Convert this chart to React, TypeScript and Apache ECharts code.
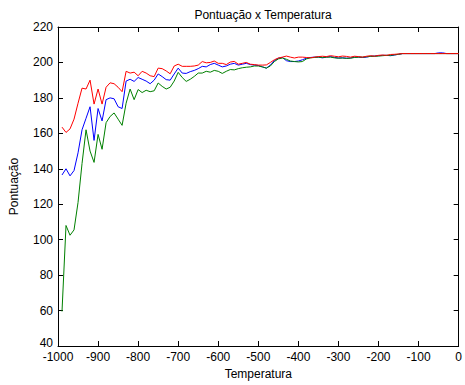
import React, { useEffect, useRef } from "react";
import * as echarts from "echarts";

const temperatures: number[] = [];
for (let t = -990; t <= 0; t += 10) temperatures.push(t);

const redValues = [
  163.5, 160.5, 162.5, 168, 177, 185.5, 185, 190, 176.5, 185,
  176.5, 186, 188.5, 188, 186, 183.5, 195, 194, 194.5, 192.5,
  195, 194, 192.5, 192, 196.8, 196.5, 195.2, 193.6, 198, 199,
  197.8, 197.8, 197.8, 198, 198.5, 200.5, 199.8, 200, 200.8, 199.5,
  199.5, 198.8, 200.2, 200.6, 199, 199.5, 200, 199, 198.8, 198.5,
  198.5, 198.6, 200, 201.5, 202.5, 203, 203.6, 203, 202.5, 203,
  203, 202.8, 202.6, 203, 203.3, 203.5, 203.3, 203.8, 203.5, 203.2,
  203.6, 203.4, 203, 203.5, 203.3, 203, 203.5, 203.8, 203.5, 204,
  204.2, 204, 204.5, 204.6, 204.8, 205, 205, 205, 205, 205,
  205, 205, 205, 205, 205, 205, 205, 205, 205, 205,
];

const blueValues = [
  136.5, 140, 136, 139, 149, 162, 168.5, 175, 156, 174,
  167, 179, 180, 179.5, 175, 174, 189.5, 190.5, 189.3, 191.5,
  190.5, 189.5, 188, 190, 193.5, 192, 190.3, 190, 193.5, 196.8,
  194, 193.8, 194.8, 195.5, 196.5, 197.8, 197.5, 198.8, 199.5, 198.5,
  197.5, 198, 199, 199.5, 198.5, 199, 199.5, 198.8, 198.5, 198.3,
  197.5, 196.8, 198.5, 201, 202.4, 202.8, 201, 200.5, 200.5, 200.8,
  201.5, 202.4, 202.8, 203, 203, 202.6, 203, 203.3, 202.8, 202.5,
  202.6, 202.4, 202.5, 203, 203, 202.8, 203, 203.5, 203.6, 203.8,
  204, 204, 203.8, 204.2, 204.6, 205, 205, 205, 205, 205,
  205, 205, 205, 205, 205.4, 205.4, 205, 205, 205, 205,
];

const greenValues = [
  59.5, 108, 102.5, 105.5, 121, 143, 162, 150, 143.6, 159.4,
  151, 166, 169.5, 171.5, 168, 164.5, 177, 185, 179, 184.7,
  183, 184.3, 183.5, 184, 188.4, 186.5, 185, 186, 189.5, 194.4,
  191.5, 189.3, 190.5, 192.1, 194, 194, 195, 194.5, 195.5, 195,
  193.8, 195, 196, 195.8, 196.5, 197, 197.3, 197.5, 198, 198,
  197.5, 196.8, 198, 200.5, 202, 202.5, 201.8, 200.8, 200.5, 200.3,
  200.5, 202, 202.6, 202.8, 203, 202.8, 203, 203, 202.6, 202.4,
  202.5, 202.3, 202.4, 202.8, 203, 203, 203.2, 203.4, 203.5, 203.6,
  203.8, 204, 204, 204.3, 204.6, 205, 205, 205, 205, 205,
  205, 205, 205, 205, 205, 205, 205, 205, 205, 205,
];

const xTicks = { min: -1000, max: 0, interval: 100 };
const yTicks = { min: 40, max: 220, interval: 20 };

const FONT = "Liberation Sans, Arial, sans-serif";

export default function App() {
  const ref = useRef<HTMLDivElement>(null);
  useEffect(() => {
    if (!ref.current) return;
    const chart = echarts.init(ref.current, undefined, { renderer: "svg" });
    const pairs = (vals: number[]) => temperatures.map((t, i) => [t, vals[i]]);
    const axisLine = { show: true, onZero: false, lineStyle: { color: "#000", width: 1 } };
    const tick = { show: true, inside: true, length: 5, lineStyle: { color: "#000", width: 1 } };
    const lbl = { color: "#000", fontSize: 12, fontFamily: FONT };
    const plain = (v: number) => String(v);
    chart.setOption({
      animation: false,
      backgroundColor: "#fff",
      title: {
        text: "Pontuação x Temperatura",
        left: 258,
        top: 4,
        textAlign: "center",
        textStyle: { color: "#000", fontSize: 12, fontWeight: "normal", fontFamily: FONT },
      },
      grid: { left: 53, top: 27, right: 2, bottom: 37, containLabel: false },
      xAxis: [
        {
          type: "value",
          ...xTicks,
          position: "bottom",
          name: "Temperatura",
          nameLocation: "middle",
          nameGap: 22,
          nameTextStyle: lbl,
          axisLine,
          axisTick: tick,
          axisLabel: { ...lbl, margin: 5, formatter: plain },
          splitLine: { show: false },
        },
        {
          type: "value",
          ...xTicks,
          position: "top",
          axisLine,
          axisTick: tick,
          axisLabel: { show: false },
          splitLine: { show: false },
        },
      ],
      yAxis: [
        {
          type: "value",
          ...yTicks,
          position: "left",
          name: "Pontuação",
          nameLocation: "middle",
          nameGap: 38,
          nameTextStyle: lbl,
          axisLine,
          axisTick: tick,
          axisLabel: {
            ...lbl,
            margin: 5,
            formatter: (v: number) => (v === yTicks.min ? `{low|${v}}` : String(v)),
            rich: { low: { ...lbl, padding: [0, 0, 6, 0] } },
          },
          splitLine: { show: false },
        },
        {
          type: "value",
          ...yTicks,
          position: "right",
          axisLine,
          axisTick: tick,
          axisLabel: { show: false },
          splitLine: { show: false },
        },
      ],
      series: [
        { name: "b", type: "line", data: pairs(blueValues), showSymbol: false, lineStyle: { color: "#0000ff", width: 1 }, itemStyle: { color: "#0000ff" } },
        { name: "g", type: "line", data: pairs(greenValues), showSymbol: false, lineStyle: { color: "#008000", width: 1 }, itemStyle: { color: "#008000" } },
        { name: "r", type: "line", data: pairs(redValues), showSymbol: false, lineStyle: { color: "#ff0000", width: 1 }, itemStyle: { color: "#ff0000" } },
      ],
    });
    return () => chart.dispose();
  }, []);
  return <div ref={ref} style={{ position: "absolute", left: 0, top: 0, width: 465, height: 385 }} />;
}
